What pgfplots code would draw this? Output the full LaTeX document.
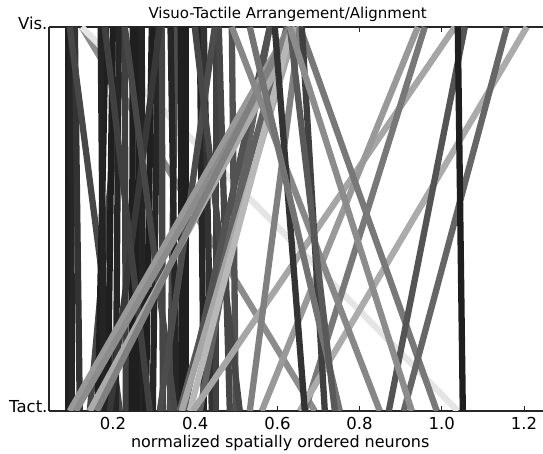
\documentclass[border=0pt]{standalone}
\usepackage{pgfplots}
\pgfplotsset{compat=1.18}
\usepackage{fontspec}
\setmainfont{DejaVu Sans}
\usetikzlibrary{calc}
\newcommand{\nl}[3]{\addplot[line width=6.3pt, color=black!#3] coordinates {(#1,0) (#2,1)};}
\begin{document}
\begin{tikzpicture}
\begin{axis}[name=ax, scale only axis, width=494pt, height=384pt,
  xmin=0.0443, xmax=1.2462, ymin=0, ymax=1,
  axis x line*=box, axis y line*=left,
  xtick={0.2,0.4,0.6,0.8,1.0,1.2},
  xticklabels={0.2,0.4,0.6,0.8,1.0,1.2},
  ytick={0,1}, yticklabels={Tact.,Vis.},
  tick align=inside, major tick length=5pt,
  xtick style={line width=1pt, black!85},
  ytick style={draw=none},
  axis line style={line width=1.6pt, black!85},
  xticklabel style={font=\fontsize{16.5}{18}\selectfont, anchor=base, yshift=-19pt},
  yticklabel style={font=\fontsize{16.5}{18}\selectfont, anchor=east, xshift=2pt, yshift=4pt},
  title={Visuo-Tactile Arrangement/Alignment},
  title style={font=\fontsize{15}{17}\selectfont, at={(0.483,1)}, anchor=base, yshift=2.5pt},
  xlabel={normalized spatially ordered neurons},
  xlabel style={font=\fontsize{16}{18}\selectfont, at={(0.468,0)}, anchor=base, yshift=-36.5pt},
  clip=true,
]
% gray line falling to the right, under the cluster
\nl{0.6910}{0.1241}{45}
% dark, nearly vertical cluster (left part)
\nl{0.0900}{0.0900}{88}
\nl{0.1000}{0.0980}{85}
\nl{0.1192}{0.1071}{80}
\nl{0.1436}{0.2287}{72}
\nl{0.2165}{0.0949}{72}
% very light line
\nl{1.0389}{0.1241}{10}
\nl{0.1630}{0.1825}{88}
\nl{0.1873}{0.1995}{88}
\nl{0.1780}{0.1700}{86}
\nl{0.2068}{0.2141}{85}
\nl{0.2311}{0.2287}{75}
\nl{0.2457}{0.2482}{88}
\nl{0.2603}{0.2628}{88}
\nl{0.2720}{0.2700}{86}
\nl{0.2798}{0.2944}{88}
\nl{0.2968}{0.3090}{85}
\nl{0.3212}{0.3187}{73}
\nl{0.3382}{0.3528}{70}
\nl{0.3674}{0.3650}{88}
\nl{0.3771}{0.3771}{88}
\nl{0.3550}{0.3400}{85}
\nl{0.4209}{0.4112}{85}
\nl{0.4404}{0.4209}{80}
\nl{0.4501}{0.4501}{75}
\nl{0.4842}{0.4574}{72}
\nl{0.4988}{0.4891}{68}
% crossing lines within the cluster
\nl{0.1922}{0.3139}{78}
\nl{0.2895}{0.1800}{75}
\nl{0.3504}{0.2287}{72}
\nl{0.4112}{0.5815}{62}
\nl{0.3139}{0.4477}{70}
\nl{0.5085}{0.3990}{72}
\nl{0.3625}{0.6229}{62}
\nl{0.3723}{0.5815}{68}
% gray diagonals rising to the right
\nl{0.0949}{0.6302}{40}
\nl{0.1095}{0.6448}{45}
\nl{0.1436}{0.6545}{33}
\nl{0.1606}{0.6302}{50}
\nl{0.3674}{0.6448}{35}
\nl{0.3869}{0.6350}{28}
\nl{0.3942}{1.0316}{35}
\nl{0.5620}{0.9416}{40}
\nl{0.6667}{0.9586}{53}
\nl{0.6545}{1.2068}{33}
\nl{0.5328}{0.6545}{50}
% lines falling to the right
\nl{0.8491}{0.4891}{47}
\nl{0.9878}{0.6545}{53}
\nl{0.6667}{0.5937}{80}
\nl{0.7153}{0.6594}{75}
\nl{0.8710}{1.0560}{67}
\nl{0.9075}{1.1582}{60}
\nl{0.7518}{0.5328}{55}
\nl{0.7397}{0.6302}{65}
\nl{0.9270}{0.6302}{45}
\nl{1.0511}{1.0389}{88}
\end{axis}
\pgfresetboundingbox
\path[use as bounding box] ($(ax.south west)+(-49pt,-43pt)$) rectangle ($(ax.north east)+(0pt,27pt)$);
\end{tikzpicture}
\end{document}
